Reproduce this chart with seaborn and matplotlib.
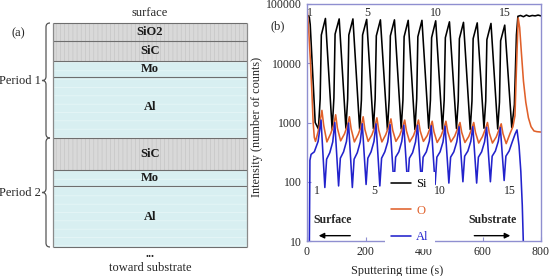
import matplotlib
matplotlib.use("Agg")
import matplotlib.pyplot as plt
from matplotlib.path import Path
from matplotlib.patches import PathPatch
from matplotlib.ticker import FuncFormatter, NullLocator
import seaborn as sns

# ---------------- depth profile (b) ----------------
si_time = [0, 4, 8, 11, 28, 39,
           45, 49, 63, 86,
           92, 96, 110, 133,
           139, 143, 157, 180,
           186, 190, 204, 227,
           233, 237, 251, 275,
           281, 285, 299, 322,
           328, 332, 346, 369,
           375, 379, 393, 416,
           422, 426, 440, 463,
           469, 473, 487, 511,
           517, 521, 535, 558,
           564, 568, 582, 605,
           611, 615, 629, 652,
           658, 662, 676, 700,
           709, 716, 721, 730, 740, 750, 760, 770, 780, 790, 800]
si_counts = [58000, 63000, 60000, 45000, 1000, 780,
             2500, 30000, 57000, 760,
             2600, 31000, 56000, 800,
             2500, 30000, 56000, 770,
             2400, 30000, 55000, 790,
             2500, 29000, 54000, 750,
             2500, 29000, 54000, 780,
             2400, 28000, 53000, 760,
             2500, 28000, 53000, 800,
             2400, 27000, 52000, 770,
             2400, 27000, 50000, 790,
             2300, 26000, 49000, 760,
             2300, 26000, 48000, 800,
             2300, 25000, 47000, 780,
             2200, 24000, 44000, 820,
             2000, 30000, 62000, 64000, 61000, 65000, 62000, 64000, 63000, 65000, 63000]

o_time = [0, 6, 12, 17, 21, 25, 29, 38, 45,
          51, 57, 68, 81, 91,
          98, 104, 115, 128, 138,
          145, 151, 162, 175, 185,
          192, 198, 209, 222, 232,
          239, 245, 256, 269, 279,
          287, 293, 304, 317, 327,
          334, 340, 351, 364, 374,
          381, 387, 398, 411, 421,
          428, 434, 445, 458, 468,
          475, 481, 492, 505, 515,
          523, 529, 540, 553, 563,
          570, 576, 587, 600, 610,
          617, 623, 634, 647, 657,
          664, 670, 681, 694, 704,
          711, 716, 722, 727, 733, 740, 748, 757, 766, 776, 786, 800]
o_counts = [95000, 35000, 10000, 3000, 1000, 560, 480, 700, 1050,
            1600, 900, 470, 650, 900,
            1350, 800, 490, 640, 880,
            1250, 780, 470, 630, 860,
            1250, 760, 480, 620, 850,
            1200, 750, 470, 620, 840,
            1150, 740, 480, 610, 830,
            1100, 720, 470, 600, 820,
            1100, 720, 480, 600, 810,
            1050, 700, 460, 590, 800,
            1050, 700, 470, 590, 790,
            1000, 680, 460, 580, 780,
            1000, 680, 450, 580, 780,
            1000, 670, 450, 570, 770,
            950, 650, 440, 650, 850,
            1300, 8000, 58000, 40000, 15000, 5000, 2200, 1200, 850, 720, 700, 690]

al_time = [0, 8, 10, 14, 25, 38,
           48, 61, 67, 78, 88,
           95, 108, 114, 125, 135,
           142, 155, 161, 172, 182,
           189, 202, 208, 219, 229,
           236, 249, 255, 266, 276,
           284, 297, 303, 314, 324,
           331, 344, 350, 361, 371,
           378, 391, 397, 408, 418,
           425, 438, 444, 455, 465,
           472, 485, 491, 502, 512,
           520, 533, 539, 550, 560,
           567, 580, 586, 597, 607,
           614, 627, 633, 644, 654,
           661, 674, 680, 691, 701, 712,
           718, 725, 731, 736, 740, 800]
al_counts = [8, 8, 230, 290, 320, 480,
             1100, 80, 240, 310, 470,
             1000, 85, 250, 320, 480,
             980, 80, 240, 310, 470,
             950, 90, 250, 320, 480,
             950, 85, 250, 320, 470,
             920, 90, 260, 320, 480,
             900, 88, 250, 310, 470,
             900, 95, 260, 320, 480,
             880, 90, 260, 320, 470,
             870, 95, 260, 320, 470,
             850, 100, 270, 330, 480,
             850, 95, 260, 320, 470,
             830, 100, 270, 330, 480,
             820, 105, 270, 330, 460, 650,
             750, 400, 150, 40, 8, 8]

period_labels = ["1", "5", "10", "15"]
period_time_top = [11, 205, 441, 678]
period_time_bottom = [34, 230, 456, 695]

# ---------------- layer stack (a) ----------------
layer_names = ["SiO2", "SiC", "Mo", "Al", "SiC", "Mo", "Al"]
layer_thick = [18, 20, 16, 61, 32, 16, 61]
layer_kind = ["gray", "gray", "cyan", "cyan", "gray", "cyan", "cyan"]

sns.set_style("ticks")
plt.rcParams["font.family"] = ["Liberation Serif", "DejaVu Serif"]
plt.rcParams["font.size"] = 8.5
plt.rcParams["hatch.linewidth"] = 0.5

fig = plt.figure(figsize=(5.52, 2.76), dpi=100)

# schematic drawn in a pixel-coordinate axes covering the figure
sch = fig.add_axes([0, 0, 1, 1])
sch.set_xlim(0, 552)
sch.set_ylim(276, 0)
sch.axis("off")

x0, x1 = 53, 247
top = 23
face = {"gray": "#d9d9d9", "cyan": "#d8eff1"}
hatch_col = {"gray": "#c6c6c6", "cyan": "#e8f7f8"}
hatch = {"gray": "||||", "cyan": "--"}
y = top
bounds = [top]
for name, th, kind in zip(layer_names, layer_thick, layer_kind):
    sch.barh(y + th / 2, x1 - x0, left=x0, height=th, color=face[kind],
             hatch=hatch[kind], edgecolor=hatch_col[kind], linewidth=0)
    sch.text((x0 + x1) / 2, y + th / 2, name, ha="center", va="center",
             fontweight="bold", fontsize=9, color="#1a1a1a")
    y += th
    bounds.append(y)

sch.hlines(bounds, x0, x1, color="#6e6e6e", lw=0.8)
sch.vlines([x0, x1], top, bounds[-1], color="#8a8a8a", lw=0.9)

sch.text(150, 13, "surface", ha="center", va="center", fontsize=9)
sch.text(150, 254, "...", ha="center", va="center", fontsize=9, fontweight="bold")
sch.text(150, 268, "toward substrate", ha="center", va="center", fontsize=9)
sch.text(18, 33, "(a)", ha="center", va="center", fontsize=9)


def brace(ax, ya, yb, xs=46, xe=50, xt=42):
    ym = (ya + yb) / 2
    verts = [(xe, ya), (xs, ya), (xs, ya + 4),
             (xs, ym - 4), (xs, ym), (xt, ym),
             (xs, ym), (xs, ym + 4),
             (xs, yb - 4), (xs, yb), (xe, yb)]
    codes = [Path.MOVETO, Path.CURVE3, Path.CURVE3,
             Path.LINETO, Path.CURVE3, Path.CURVE3,
             Path.CURVE3, Path.CURVE3,
             Path.LINETO, Path.CURVE3, Path.CURVE3]
    ax.add_patch(PathPatch(Path(verts, codes), fill=False, color="#555555", lw=0.9))
    return ym


p1 = brace(sch, bounds[0], bounds[4])
p2 = brace(sch, bounds[4], bounds[7])
sch.text(41, p1, "Period 1", ha="right", va="center", fontsize=9)
sch.text(41, p2, "Period 2", ha="right", va="center", fontsize=9)
sch.text(278, 26, "(b)", ha="center", va="center", fontsize=9)

# ---------------- profile axes ----------------
ax = fig.add_axes([307 / 552, 1 - 241 / 276, 234 / 552, 237 / 276])
blue = "#2222cc"
orange = "#e0602a"
sns.lineplot(x=si_time, y=si_counts, color="black", lw=1.15, label="Si",
             sort=False, estimator=None, ax=ax)
sns.lineplot(x=o_time, y=o_counts, color=orange, lw=1.15, label="O",
             sort=False, estimator=None, ax=ax)
sns.lineplot(x=al_time, y=al_counts, color=blue, lw=1.15, label="Al",
             sort=False, estimator=None, ax=ax)

ax.set_yscale("log")
ax.set_xlim(0, 800)
ax.set_ylim(10, 100000)
ax.set_yticks([10, 100, 1000, 10000, 100000])
ax.yaxis.set_minor_locator(NullLocator())
ax.yaxis.set_major_formatter(FuncFormatter(lambda v, _: f"{v:g}"))
ax.set_xticks([0, 200, 400, 600, 800])

spine_col = "#8f8fd0"
for s in ax.spines.values():
    s.set_color(spine_col)
    s.set_linewidth(1.0)
ax.tick_params(direction="in", length=3, width=0.8, color=spine_col,
               labelsize=8.5, pad=3.5)

ax.set_xlabel("Sputtering time (s)", fontsize=8.8)
ax.set_ylabel("Intensity (number of counts)", fontsize=8.8)
ax.xaxis.set_label_coords(0.385, -0.10)
ax.yaxis.set_label_coords(-0.188, 0.48)

for lab, t in zip(period_labels, period_time_top):
    ax.text(t, 71000, lab, ha="center", va="center", fontsize=8.5)
for lab, t in zip(period_labels, period_time_bottom):
    ax.text(t, 71, lab, ha="center", va="center", fontsize=8.5)

ax.text(88, 22.7, "Surface", ha="center", va="center", fontweight="bold", fontsize=8.5)
ax.text(633, 22.7, "Substrate", ha="center", va="center", fontweight="bold", fontsize=8.5)
arrow = dict(arrowstyle="-|>", color="black", lw=1, mutation_scale=8,
             shrinkA=0, shrinkB=0)
ax.annotate("", xy=(40, 12.3), xytext=(148, 12.3), arrowprops=arrow)
ax.annotate("", xy=(695, 12.3), xytext=(572, 12.3), arrowprops=arrow)

ax.legend(loc="upper left", bbox_to_anchor=(0.333, 0.291), borderaxespad=0,
          frameon=True, facecolor="white", edgecolor="none", framealpha=1,
          fancybox=False, handlelength=1.6, handletextpad=0.4,
          labelspacing=1.15, borderpad=0.5, labelcolor="linecolor", fontsize=9)

fig.savefig("out.png", dpi=100)
